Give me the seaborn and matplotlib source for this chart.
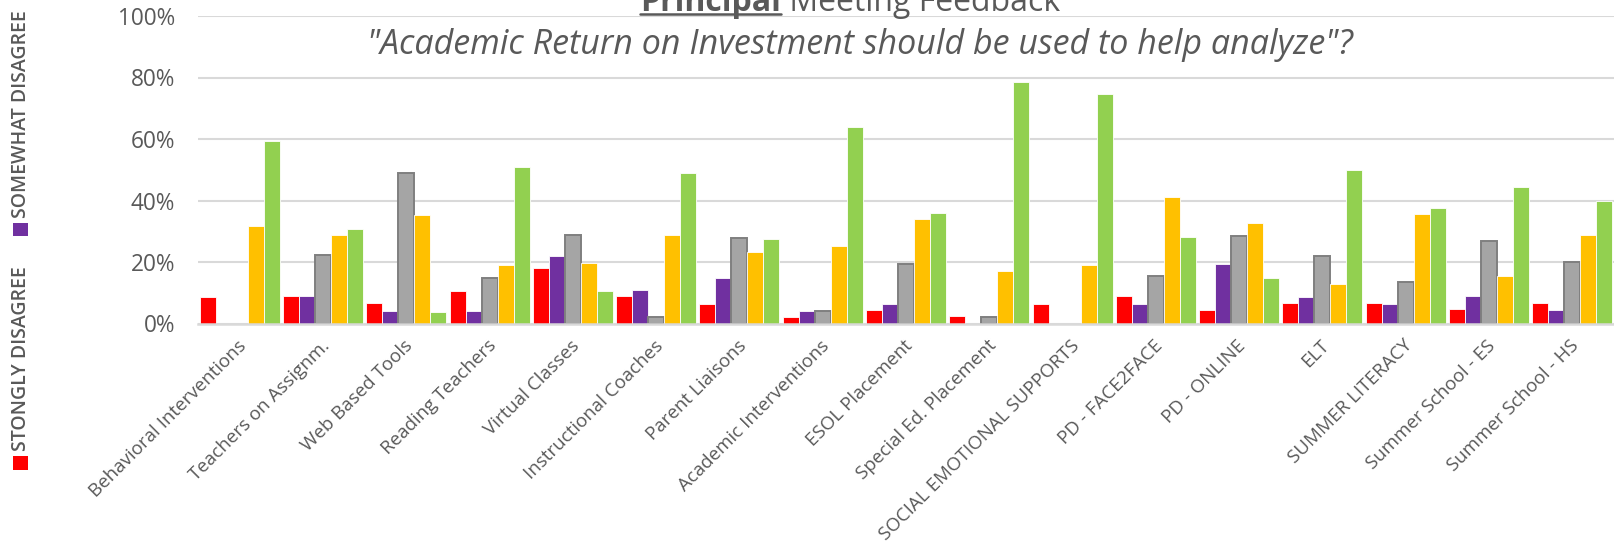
import matplotlib
matplotlib.use("Agg")
import matplotlib.pyplot as plt
from matplotlib.lines import Line2D
from matplotlib.patches import Rectangle
from matplotlib.ticker import FuncFormatter
from matplotlib.transforms import ScaledTranslation
import numpy as np
import pandas as pd
import seaborn as sns

# Programs rated in the principal meeting survey
programs = [
    "Behavioral Interventions", "Teachers on Assignm.", "Web Based Tools",
    "Reading Teachers", "Virtual Classes", "Instructional Coaches",
    "Parent Liaisons", "Academic Interventions", "ESOL Placement",
    "Special Ed. Placement", "SOCIAL EMOTIONAL SUPPORTS", "PD - FACE2FACE",
    "PD - ONLINE", "ELT", "SUMMER LITERACY", "Summer School - ES",
    "Summer School - HS",
]

responses = ["STONGLY DISAGREE", "SOMEWHAT DISAGREE", "NEUTRAL",
             "SOMEWHAT AGREE", "STRONGLY AGREE"]

# Share of principals (%) giving each response
strongly_disagree = [8.5, 9.1, 6.7, 10.7, 17.9, 9.1, 6.5, 2.2, 4.3, 2.3, 6.5, 8.9, 4.5, 6.7, 6.8, 4.6, 6.8]
somewhat_disagree = [0.0, 8.8, 4.2, 4.0, 22.1, 10.9, 14.8, 4.0, 6.3, 0.0, 0.0, 6.4, 19.5, 8.5, 6.5, 8.8, 4.3]
neutral = [0.0, 22.2, 49.0, 14.9, 28.9, 2.2, 27.7, 4.2, 19.2, 2.2, 0.0, 15.3, 28.4, 21.9, 13.4, 26.7, 20.0]
somewhat_agree = [31.8, 28.8, 35.4, 19.0, 19.8, 28.8, 23.3, 25.3, 33.9, 17.2, 19.0, 41.1, 32.6, 13.0, 35.5, 15.4, 28.9]
strongly_agree = [59.4, 30.8, 3.9, 51.0, 10.5, 48.8, 27.4, 64.0, 35.9, 78.4, 74.6, 28.0, 14.8, 49.9, 37.6, 44.4, 39.9]

y_ticks = [0, 20, 40, 60, 80, 100]

colors = ["#FF0000", "#7030A0", "#A5A5A5", "#FFC000", "#92D050"]
text_color = "#595959"
grid_color = "#D9D9D9"

series = [strongly_disagree, somewhat_disagree, neutral, somewhat_agree, strongly_agree]
df = pd.concat(
    [pd.DataFrame({"program": programs, "response": r, "share": v})
     for r, v in zip(responses, series)],
    ignore_index=True,
)

sns.set_style("white")
plt.rcParams["font.family"] = ["Open Sans", "DejaVu Sans"]

W, H = 1614, 544
fig = plt.figure(figsize=(W / 100, H / 100), dpi=100)
ax = fig.add_axes([198 / W, (H - 323.5) / H, 1 - 198 / W, (323.5 - 16) / H])

sns.barplot(
    data=df, x="program", y="share", hue="response",
    order=programs, hue_order=responses, palette=colors,
    saturation=1, width=0.96, legend=False, ax=ax, errorbar=None,
)

# Bar outlines: darker rim on the neutral bars, a faint light rim elsewhere
for cont, col in zip(ax.containers, colors):
    for p in cont.patches:
        if p.get_height() <= 0:
            p.set_visible(False)
            continue
        if col == "#A5A5A5":
            p.set_edgecolor("#7F7F7F")
            p.set_linewidth(1.4)
        else:
            p.set_edgecolor("white")
            p.set_linewidth(0.6)

ax.set_ylim(0, 100)
ax.set_xlim(-0.5, len(programs) - 0.5)
ax.set_yticks(y_ticks)
ax.yaxis.set_major_formatter(FuncFormatter(lambda v, _: f"{v:.0f}%"))
ax.grid(axis="y", color=grid_color, linewidth=1.5)
ax.set_axisbelow(True)
for s in ["left", "right", "top"]:
    ax.spines[s].set_visible(False)
ax.spines["bottom"].set_color(grid_color)
ax.spines["bottom"].set_linewidth(1.8)
ax.set_xlabel("")
ax.set_ylabel("")
ax.tick_params(axis="y", length=0, pad=16.5, labelsize=16.3, labelcolor=text_color)
ax.tick_params(axis="x", length=0, pad=14, labelsize=13.5, labelcolor=text_color)
shift = ScaledTranslation(4 / 100, 0, fig.dpi_scale_trans)
for lab in ax.get_xticklabels():
    lab.set_rotation(45)
    lab.set_ha("right")
    lab.set_va("center")
    lab.set_rotation_mode("anchor")
    lab.set_transform(lab.get_transform() + shift)

# Title: bold, underlined "Principal" followed by regular text
title_y = 1 - 11 / H
t_bold = fig.text(0, title_y, "Principal", fontsize=23, fontweight="bold",
                  color=text_color, ha="left", va="baseline")
t_rest = fig.text(0, title_y, " Meeting Feedback", fontsize=23,
                  color=text_color, ha="left", va="baseline")
fig.canvas.draw()
r = fig.canvas.get_renderer()
wb = t_bold.get_window_extent(r).width
wr = t_rest.get_window_extent(r).width
x0 = 850 - (wb + wr) / 2
t_bold.set_position((x0 / W, title_y))
t_rest.set_position(((x0 + wb) / W, title_y))
fig.add_artist(Line2D([x0 / W, (x0 + wb) / W], [1 - 13.5 / H, 1 - 13.5 / H],
                      color=text_color, linewidth=1.8))

fig.text(860 / W, 1 - 54.5 / H,
         '"Academic Return on Investment should be used to help analyze"?',
         fontsize=24.5, fontstyle="italic", color=text_color,
         ha="center", va="baseline")

# Vertical legend along the left edge
legend_items = [
    (responses[0], colors[0], 456, 470, 451),
    (responses[1], colors[1], 223, 236, 218),
]
for name, col, y_top, y_bot, text_bottom in legend_items:
    fig.add_artist(Rectangle((13 / W, 1 - y_bot / H), 15 / W, (y_bot - y_top) / H,
                             transform=fig.transFigure, facecolor=col,
                             edgecolor="none"))
    fig.text(21 / W, 1 - text_bottom / H, name, rotation=90, fontsize=14,
             fontweight="semibold", color=text_color, ha="center", va="bottom")

fig.savefig("out.png", dpi=100)
